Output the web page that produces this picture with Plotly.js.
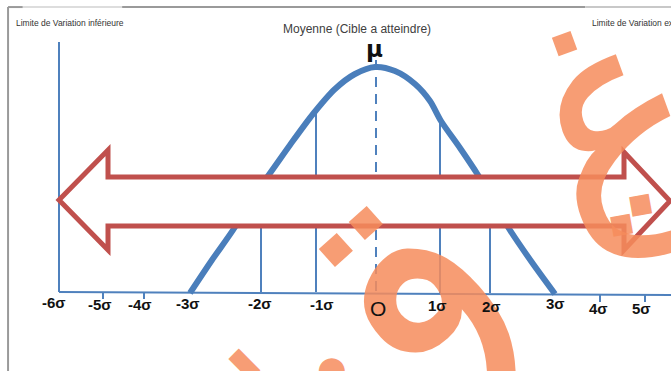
<!DOCTYPE html>
<html>
<head>
<meta charset="utf-8">
<script src="https://cdn.plot.ly/plotly-3.0.1.min.js"></script>
<style>html,body{margin:0;padding:0;background:#fff;}#chart{width:671px;height:371px;}</style>
</head>
<body>
<div id="chart"></div>
<script>
// Bell curve (diagram units: x to the right, y downward)
const curveX = [190, 212, 235, 250, 268, 290, 313, 335, 355, 375, 395, 415, 430, 441, 460, 478, 493, 508, 531, 555];
const curveY = [293, 260, 227, 200, 176, 145, 114, 89, 74, 67, 71, 84, 101, 121, 148, 175, 200, 227, 261, 294];

// Sigma tick labels and their positions along the drawn axis
const sigmaLabels = ['-6σ', '-5σ', '-4σ', '-3σ', '-2σ', '-1σ', '0', '1σ', '2σ', '3σ', '4σ', '5σ', '6σ'];
const sigmaLabelX = [54, 100, 140, 188, 260, 322, 378, 437, 491, 555, 598, 641, 674];
const sigmaLabelY = [302, 304, 304, 303, 303, 304, 308, 305, 306, 303, 308, 308, 309];

// Vertical guide lines (x, top, bottom)
const guideX = [59, 261, 316, 440, 490];
const guideTop = [42, 188, 113, 121, 197];
const guideBottom = [292, 292, 292, 293, 293];

// Mean (dashed)
const meanX = [376, 376];
const meanY = [60, 293];

// Axis
const axisX = [59, 671];
const axisY = [292, 295];
const smallTickX = [103, 144, 600, 645];
const smallTickTop = [292, 292, 294, 294];
const smallTickBottom = [299, 299, 302, 302];

// Double-headed arrow outline
const arrowX = [59, 108, 108, 624, 624, 670, 624, 624, 108, 108];
const arrowY = [200, 150, 177, 177, 152, 201, 250, 226, 226, 250];

// Watermark glyphs (orange Arabic letters over the figure)
const wmText = ['غ', 'ق', '■', '■', '▮', '●'];
const wmX = [610, 376, 640, 621, 242, 332];
const wmY = [108, 326, 203, 223, 362, 368];
const wmSize = [270, 330, 26, 26, 40, 34];
const wmAngle = [-20, -42, -10, -10, -45, 0];

const blue = '#4A7EBB';
const red = '#C0504D';

function segs(xs, tops, bottoms) {
  const x = [], y = [];
  for (let i = 0; i < xs.length; i++) { x.push(xs[i], xs[i], null); y.push(tops[i], bottoms[i], null); }
  return {x, y};
}
const g = segs(guideX, guideTop, guideBottom);
const t = segs(smallTickX, smallTickTop, smallTickBottom);

const traces = [
  {x: g.x, y: g.y, mode: 'lines', line: {color: '#4F81BD', width: 2}, hoverinfo: 'skip'},
  {x: axisX, y: axisY, mode: 'lines', line: {color: '#4F81BD', width: 2}, hoverinfo: 'skip'},
  {x: t.x, y: t.y, mode: 'lines', line: {color: '#4F81BD', width: 2}, hoverinfo: 'skip'},
  {x: meanX, y: meanY, mode: 'lines', line: {color: '#4F81BD', width: 2, dash: '10px,7px'}, hoverinfo: 'skip'},
  {x: curveX, y: curveY, mode: 'lines', line: {color: blue, width: 6, shape: 'spline', smoothing: 0.8}, hoverinfo: 'skip'}
];

let path = '';
for (let i = 0; i < arrowX.length; i++) path += (i ? ' L ' : 'M ') + arrowX[i] + ' ' + arrowY[i];
path += ' Z';

const shapes = [
  {type: 'line', xref: 'paper', yref: 'paper', x0: 0.012, x1: 0.034, y0: 0.981, y1: 0.981, line: {color: '#9a9a9a', width: 2}},
  {type: 'line', xref: 'paper', yref: 'paper', x0: 0.034, x1: 0.182, y0: 0.981, y1: 0.981, line: {color: '#dddddd', width: 2}},
  {type: 'line', xref: 'paper', yref: 'paper', x0: 0.182, x1: 0.872, y0: 0.981, y1: 0.981, line: {color: '#9a9a9a', width: 2}},
  {type: 'line', xref: 'paper', yref: 'paper', x0: 0.872, x1: 1, y0: 0.981, y1: 0.981, line: {color: '#c8c8c8', width: 2}},
  {type: 'line', xref: 'paper', yref: 'paper', x0: 0.012, x1: 0.012, y0: 0, y1: 0.981, line: {color: '#9a9a9a', width: 2}},
  {type: 'path', xref: 'x', yref: 'y', path: path, fillcolor: '#ffffff', line: {color: red, width: 5}, layer: 'above'}
];

const wm = 'rgba(246,140,92,0.85)';
const annotations = [];
for (let i = 0; i < wmText.length; i++) {
  annotations.push({x: wmX[i], y: wmY[i], xref: 'x', yref: 'y', text: wmText[i], showarrow: false, textangle: wmAngle[i],
    font: {family: 'DejaVu Sans', size: wmSize[i], color: wm}});
}
annotations.push(
  {x: 14, y: 23, xref: 'x', yref: 'y', xanchor: 'left', text: 'Limite de Variation inférieure', showarrow: false,
   font: {family: 'Liberation Sans, Arial, sans-serif', size: 8.5, color: '#333'}},
  {x: 590, y: 23, xref: 'x', yref: 'y', xanchor: 'left', text: 'Limite de Variation exterieure', showarrow: false,
   font: {family: 'Liberation Sans, Arial, sans-serif', size: 8.5, color: '#333'}},
  {x: 357, y: 29, xref: 'x', yref: 'y', text: 'Moyenne (Cible a atteindre)', showarrow: false,
   font: {family: 'Liberation Sans, Arial, sans-serif', size: 12, color: '#404040'}},
  {x: 374, y: 49, xref: 'x', yref: 'y', text: '<b>μ</b>', showarrow: false,
   font: {family: 'DejaVu Sans, sans-serif', size: 23, color: '#111'}}
);
for (let i = 0; i < sigmaLabels.length; i++) {
  const isZero = sigmaLabels[i] === '0';
  annotations.push({x: sigmaLabelX[i], y: sigmaLabelY[i], xref: 'x', yref: 'y', text: isZero ? 'O' : '<b>' + sigmaLabels[i] + '</b>', showarrow: false,
    font: {family: 'Liberation Sans, Arial, sans-serif', size: isZero ? 21 : (i === 12 ? 12 : 15), color: '#111'}});
}

const layout = {
  width: 671, height: 371,
  margin: {l: 0, r: 0, t: 0, b: 0},
  paper_bgcolor: '#fff', plot_bgcolor: '#fff',
  showlegend: false,
  xaxis: {range: [0, 671], visible: false, fixedrange: true},
  yaxis: {range: [371, 0], visible: false, fixedrange: true},
  shapes: shapes,
  annotations: annotations
};
Plotly.newPlot('chart', traces, layout, {staticPlot: true, displayModeBar: false});
</script>
</body>
</html>
